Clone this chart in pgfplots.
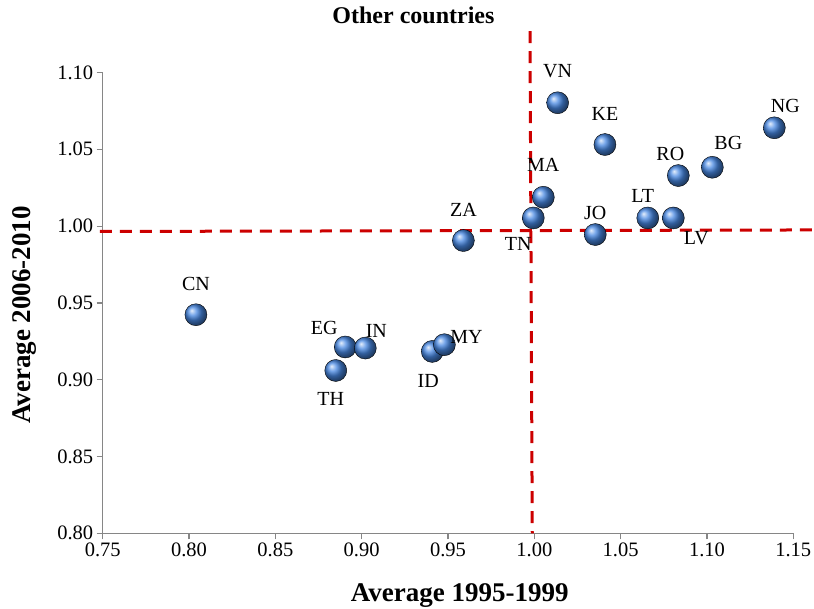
\documentclass[border=0pt]{standalone}
\usepackage{pgfplots}
\pgfplotsset{compat=1.18}
\usepackage{pgfplotstable}
\usepackage{fontspec}
\setmainfont{Liberation Serif}

\definecolor{balls}{RGB}{72,136,226}
\definecolor{guide}{RGB}{204,0,0}
\definecolor{axgray}{RGB}{134,134,134}

% country, average 1995-1999, average 2006-2010, label offset (bp)
\pgfplotstableread{
label x      y      dx  dy
CN    0.804  0.9423  0   31
EG    0.8905 0.9213 -21  19
IN    0.9021 0.9206  11  17
TH    0.885  0.906  -5  -28
ID    0.9409 0.9184 -4  -30
MY    0.9479 0.9228  22  8
ZA    0.9589 0.9906  0   31
TN    0.9994 1.0053 -15 -26
MA    1.0052 1.0188  0   32
JO    1.0353 0.9945  0   22
LT    1.0657 1.0053 -5   22
LV    1.0805 1.0053  23 -20
RO    1.0834 1.0329 -8   22
BG    1.1031 1.0383  16  24
VN    1.0135 1.0803  0   32
KE    1.0409 1.0531  0   31
NG    1.139  1.064   11  22
}\countries

\begin{document}
\begin{tikzpicture}
\begin{axis}[
    name=ax,
    width=690.6bp, height=460.8bp, scale only axis,
    xmin=0.75, xmax=1.15, ymin=0.80, ymax=1.10,
    xtick={0.75,0.80,0.85,0.90,0.95,1.00,1.05,1.10,1.15},
    ytick={0.80,0.85,0.90,0.95,1.00,1.05,1.10},
    axis x line*=bottom, axis y line*=left,
    axis line style={axgray, line width=1.2bp},
    tick style={axgray, line width=1.2bp},
    tick align=outside, major tick length=6bp,
    /pgf/number format/fixed, /pgf/number format/fixed zerofill,
    /pgf/number format/precision=2,
    /pgf/number format/assume math mode=true,
    tick label style={font=\fontsize{20.5bp}{24bp}\selectfont},
    title={Other countries},
    title style={at={(0.45,1.111)}, anchor=center, font=\bfseries\fontsize{24bp}{28bp}\selectfont},
    xlabel={Average 1995-1999},
    ylabel={Average 2006-2010},
    xlabel style={at={(0.517,-0.136)}, anchor=center, font=\bfseries\fontsize{27bp}{32bp}\selectfont},
    ylabel style={at={(-0.113,0.474)}, anchor=center, font=\bfseries\fontsize{27bp}{32bp}\selectfont},
    clip=false,
]
\addplot[guide, line width=3bp, dash pattern=on 12bp off 8bp, forget plot]
    coordinates {(0.7484,0.9965) (1.162,0.9975)};
\addplot[guide, line width=3bp, dash pattern=on 12bp off 8bp, forget plot]
    coordinates {(0.9975,1.127) (0.9988,0.80)};
\addplot[only marks, mark=ball, mark size=11bp, mark options={ball color=balls},
    point meta=explicit symbolic, nodes near coords,
    visualization depends on={\thisrow{dx}\as\dx},
    visualization depends on={\thisrow{dy}\as\dy},
    every node near coord/.append style={anchor=center, xshift=\dx*1bp, yshift=\dy*1bp,
        text=black, font=\fontsize{20bp}{24bp}\selectfont}]
    table[x=x, y=y, meta=label] {\countries};
\end{axis}
\pgfresetboundingbox
\path ([shift={(-102.7bp,-75.7bp)}]ax.south west) rectangle ([shift={(20.7bp,72.5bp)}]ax.north east);
\end{tikzpicture}
\end{document}
